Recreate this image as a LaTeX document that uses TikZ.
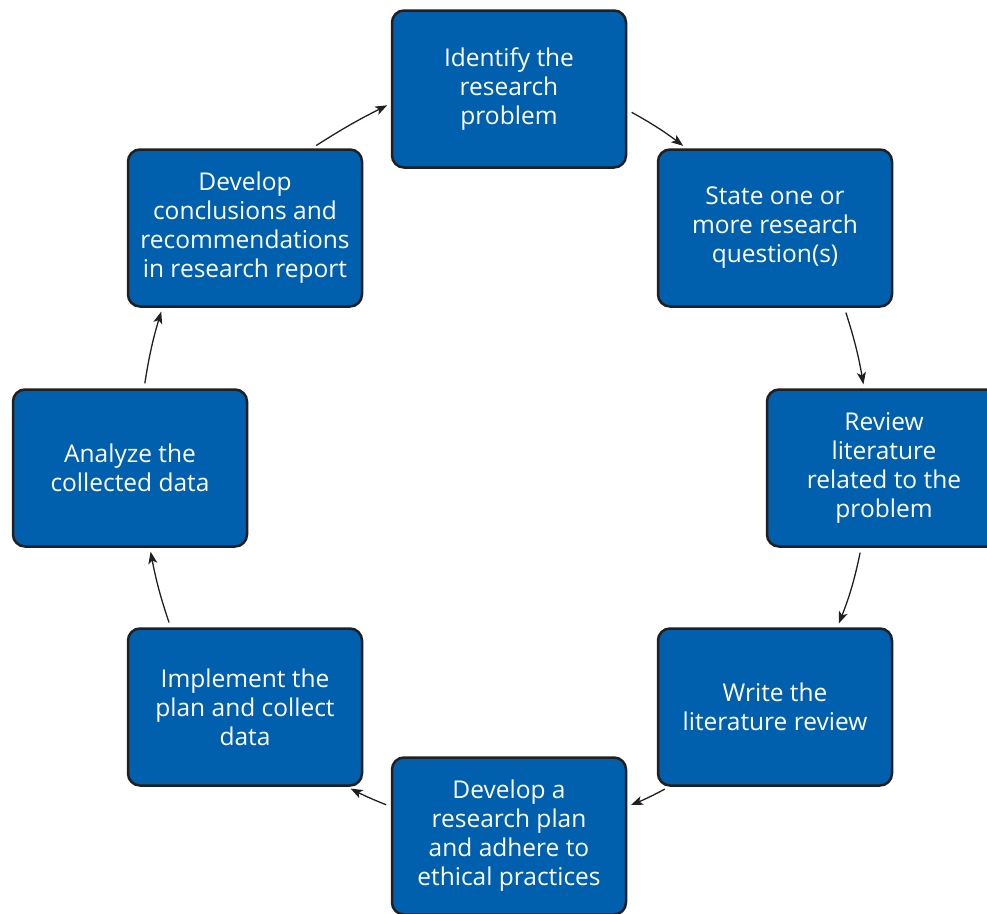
\documentclass[tikz,border=0pt]{standalone}
\usepackage{fontspec}
\setmainfont{Open Sans}
\usetikzlibrary{arrows.meta,positioning}
\definecolor{stageblue}{RGB}{0,96,173}
\definecolor{stageedge}{RGB}{35,31,32}

\begin{document}
\begin{tikzpicture}[x=1pt,y=-1pt,
  stage/.style={rectangle,rounded corners=12pt,draw=stageedge,line width=2.5pt,fill=stageblue,
    text=white,align=center,minimum width=234pt,minimum height=157pt,inner sep=0pt,
    font=\fontsize{24.5}{29}\selectfont},
  flow/.style={-{Stealth[length=12pt,width=9pt,inset=3pt]},line width=1.3pt,stageedge,
    shorten <=5pt,shorten >=4pt}]
\useasboundingbox (0,0) rectangle (987,913);
\clip (0,0) rectangle (987,913);

\node[stage] at (509,89) (identify) {Identify the\\research\\problem};
\node[stage] at (775,228) (state) {State one or\\more research\\question(s)};
\node[stage] at (884,468) (review) {Review\\literature\\related to the\\problem};
\node[stage] at (775,707) (write) {Write the\\literature review};
\node[stage] at (509,836) (plan) {Develop a\\research plan\\and adhere to\\ethical practices};
\node[stage] at (245,707) (implement) {Implement the\\plan and collect\\data};
\node[stage] at (130,468) (analyze) {Analyze the\\collected data};
\node[stage] at (245,228) (conclude) {Develop\\conclusions and\\recommendations\\in research report};

\draw[flow] (identify.-10) to[bend left=4] (state.138);
\draw[flow] (state.-49) to[bend left=4] (review.104);
\draw[flow] (review.254) to[bend left=5] (write.52);
\draw[flow] (write.217) to[bend left=3] (plan.14);
\draw[flow] (plan.166) to[bend left=3] (implement.-38);
\draw[flow] (implement.133) to[bend left=4] (analyze.-76);
\draw[flow] (analyze.80) to[bend left=4] (conclude.224);
\draw[flow] (conclude.50) to[bend left=3] (identify.187);
\end{tikzpicture}
\end{document}
